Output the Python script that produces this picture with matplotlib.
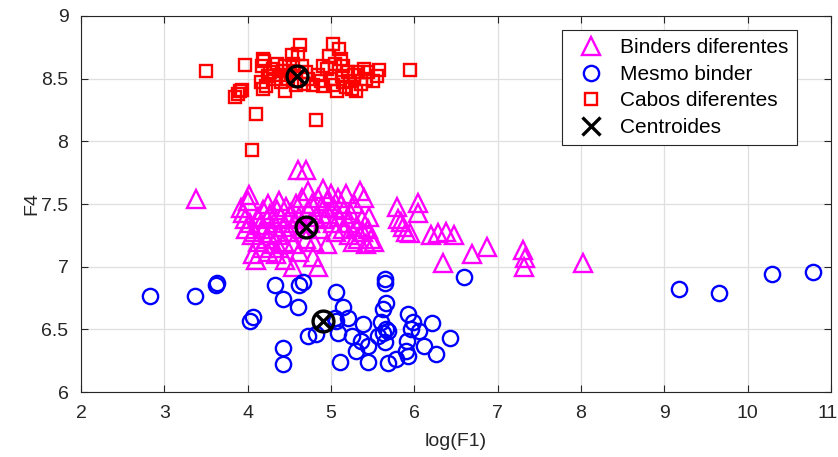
import matplotlib
matplotlib.use("Agg")
import matplotlib.pyplot as plt
from matplotlib.lines import Line2D
from matplotlib.transforms import ScaledTranslation

plt.rcParams['font.family'] = ['Liberation Sans', 'DejaVu Sans']

# Binders diferentes (log(F1), F4)
bind_x = [3.38, 3.92, 3.95, 3.97, 3.98, 4.00, 4.02, 4.03, 4.05, 4.07, 4.08, 4.10,
          4.12, 4.13, 4.15, 4.17, 4.18, 4.20, 4.22, 4.23, 4.25, 4.27, 4.28, 4.30,
          4.32, 4.34, 4.35, 4.37, 4.38, 4.40, 4.42, 4.44, 4.46, 4.48, 4.50, 4.52,
          4.55, 4.56, 4.58, 4.60, 4.62, 4.65, 4.67, 4.70, 4.72, 4.73, 4.75, 4.77,
          4.80, 4.82, 4.84, 4.85, 4.87, 4.88, 4.90, 4.92, 4.95, 4.97, 5.00, 5.02,
          5.04, 5.06, 5.08, 5.10, 5.12, 5.14, 5.16, 5.18, 5.20, 5.22, 5.24, 5.26,
          5.28, 5.30, 5.33, 5.35, 5.37, 5.39, 5.40, 5.42, 5.44, 5.46, 5.48, 5.52,
          4.55, 4.45, 4.62, 4.70, 4.38, 4.25, 4.95, 4.78,
          5.79, 5.81, 5.84, 5.87, 5.90, 5.95, 6.04, 6.04, 6.20, 6.28, 6.38, 6.48,
          6.35, 6.69, 6.87, 7.31, 7.33, 7.32, 8.02]
bind_y = [7.54, 7.47, 7.43, 7.38, 7.30, 7.52, 7.57, 7.35, 7.25, 7.10, 7.28, 7.05,
          7.40, 7.20, 7.33, 7.15, 7.45, 7.30, 7.22, 7.38, 7.12, 7.42, 7.27, 7.18,
          7.35, 7.10, 7.45, 7.25, 7.15, 7.40, 7.32, 7.20, 7.48, 7.38, 7.28, 7.43,
          7.00, 7.35, 7.50, 7.77, 7.40, 7.55, 7.30, 7.77, 7.45, 7.60, 7.35, 7.50,
          7.20, 7.40, 7.55, 7.00, 7.30, 7.48, 7.62, 7.38, 7.52, 7.42, 7.58, 7.35,
          7.47, 7.28, 7.55, 7.40, 7.50, 7.30, 7.45, 7.58, 7.35, 7.25, 7.42, 7.20,
          7.50, 7.32, 7.22, 7.60, 7.38, 7.28, 7.55, 7.18, 7.30, 7.40, 7.22, 7.20,
          7.18, 7.05, 7.12, 7.22, 7.52, 7.50, 7.18, 7.08,
          7.48, 7.38, 7.36, 7.32, 7.28, 7.27, 7.51, 7.43, 7.25, 7.27, 7.28, 7.25,
          7.03, 7.10, 7.16, 7.13, 7.07, 7.00, 7.03]

# Mesmo binder
same_x = [2.83, 3.37, 3.62, 3.63, 4.03, 4.06, 4.33, 4.42, 4.60, 4.62, 4.66, 4.42,
          4.42, 4.72, 4.82, 5.05, 5.06, 5.06, 5.14, 5.20, 5.25, 5.09, 5.11, 5.30,
          5.36, 5.38, 5.44, 5.44, 5.56, 5.60, 5.62, 5.62, 5.65, 5.65, 5.66, 5.66,
          5.65, 5.68, 5.69, 5.78, 5.92, 5.96, 5.91, 5.90, 5.92, 5.98, 6.06, 6.12,
          6.21, 6.26, 6.43, 6.60, 9.18, 9.66, 10.29, 10.78]
same_y = [6.77, 6.77, 6.85, 6.87, 6.57, 6.60, 6.85, 6.74, 6.68, 6.85, 6.88, 6.35,
          6.22, 6.45, 6.46, 6.59, 6.57, 6.80, 6.68, 6.59, 6.45, 6.47, 6.24, 6.33,
          6.41, 6.54, 6.24, 6.37, 6.45, 6.56, 6.66, 6.47, 6.90, 6.87, 6.71, 6.50,
          6.40, 6.23, 6.49, 6.26, 6.62, 6.50, 6.41, 6.33, 6.29, 6.56, 6.49, 6.37,
          6.55, 6.30, 6.43, 6.92, 6.82, 6.79, 6.94, 6.96]

# Cabos diferentes
cabo_x = [3.50, 3.85, 3.88, 3.91, 3.93, 3.97, 4.05, 4.10, 4.16, 4.17, 4.18, 4.20,
          4.18, 4.22, 4.25, 4.27, 4.30, 4.32, 4.35, 4.38, 4.40, 4.42, 4.45, 4.48,
          4.50, 4.53, 4.55, 4.57, 4.60, 4.63, 4.65, 4.68, 4.70, 4.72, 4.78, 4.82,
          4.85, 4.88, 4.90, 4.95, 4.98, 5.00, 5.02, 5.03, 5.05, 5.07, 5.10, 5.12,
          5.13, 5.15, 5.18, 5.20, 5.23, 5.25, 5.28, 5.30, 5.33, 5.36, 5.40, 5.42,
          5.45, 5.50, 5.55, 5.58, 5.95, 4.45, 4.58, 5.15, 4.90]
cabo_y = [8.56, 8.35, 8.38, 8.40, 8.41, 8.61, 7.93, 8.22, 8.47, 8.60, 8.66, 8.64,
          8.42, 8.44, 8.52, 8.55, 8.58, 8.50, 8.62, 8.53, 8.47, 8.56, 8.60, 8.50,
          8.56, 8.69, 8.62, 8.48, 8.70, 8.77, 8.60, 8.46, 8.55, 8.50, 8.45, 8.17,
          8.53, 8.48, 8.44, 8.58, 8.68, 8.50, 8.78, 8.45, 8.62, 8.40, 8.74, 8.66,
          8.52, 8.47, 8.43, 8.55, 8.48, 8.42, 8.53, 8.40, 8.55, 8.46, 8.58, 8.50,
          8.55, 8.48, 8.52, 8.57, 8.57, 8.40, 8.45, 8.60, 8.60]

# Centroides
cent_x = [4.70, 4.91, 4.59]
cent_y = [7.32, 6.57, 8.52]

x_ticks = [2, 3, 4, 5, 6, 7, 8, 9, 10, 11]
y_ticks = [6, 6.5, 7, 7.5, 8, 8.5, 9]
y_tick_labels = ['6', '6.5', '7', '7.5', '8', '8.5', '9']
legend_labels = ['Binders diferentes', 'Mesmo binder', 'Cabos diferentes', 'Centroides']

MAGENTA, BLUE, RED, DARK = '#ff00ff', '#0000ff', '#ff0000', '#262626'

fig = plt.figure(figsize=(8.38, 4.57), dpi=100)
ax = fig.add_axes([0.0966, 0.1422, 0.8950, 0.8228])

ax.plot(bind_x, bind_y, linestyle='none', marker='^', markersize=12.5,
        markerfacecolor='none', markeredgecolor=MAGENTA, markeredgewidth=1.7)
ax.plot(same_x, same_y, linestyle='none', marker='o', markersize=11,
        markerfacecolor='none', markeredgecolor=BLUE, markeredgewidth=1.7)
ax.plot(cabo_x, cabo_y, linestyle='none', marker='s', markersize=9,
        markerfacecolor='none', markeredgecolor=RED, markeredgewidth=1.7)
ax.plot(cent_x, cent_y, linestyle='none', marker='x', markersize=11,
        color='black', markeredgewidth=2.4)
ax.plot(cent_x, cent_y, linestyle='none', marker='o', markersize=15,
        markerfacecolor='none', markeredgecolor='black', markeredgewidth=2.4)

ax.set_xlim(2, 11)
ax.set_ylim(6, 9)
ax.set_xticks(x_ticks)
ax.set_yticks(y_ticks)
ax.set_yticklabels(y_tick_labels)
ax.grid(True, color='#dfdfdf', linewidth=0.9)
ax.set_axisbelow(True)
for s in ax.spines.values():
    s.set_color(DARK)
    s.set_linewidth(0.8)
ax.tick_params(direction='in', top=True, right=True, length=5, width=0.8,
               colors=DARK, labelsize=14, labelcolor=DARK)
ax.tick_params(axis='x', pad=9)
ax.tick_params(axis='y', pad=9)
ax.set_xlabel('log(F1)', fontsize=14, color=DARK, labelpad=8)
ax.set_ylabel('F4', fontsize=14, color=DARK, labelpad=1)

# keep the rightmost x tick label inside the canvas
fig.canvas.draw()
last = ax.get_xticklabels()[-1]
last.set_transform(last.get_transform() + ScaledTranslation(-3 / 100, 0, fig.dpi_scale_trans))

handles = [
    Line2D([], [], linestyle='none', marker='^', markersize=12.5, markerfacecolor='none',
           markeredgecolor=MAGENTA, markeredgewidth=1.7),
    Line2D([], [], linestyle='none', marker='o', markersize=11, markerfacecolor='none',
           markeredgecolor=BLUE, markeredgewidth=1.7),
    Line2D([], [], linestyle='none', marker='s', markersize=9, markerfacecolor='none',
           markeredgecolor=RED, markeredgewidth=1.7),
    Line2D([], [], linestyle='none', marker='x', markersize=13, color='black',
           markeredgewidth=2.4),
]
leg = ax.legend(handles, legend_labels, loc='upper right',
                bbox_to_anchor=(797 / 838, 1 - 30 / 457), bbox_transform=fig.transFigure,
                fontsize=15, frameon=True, fancybox=False, framealpha=1,
                edgecolor=DARK, borderpad=0.4, labelspacing=0.36,
                handlelength=2.0, handletextpad=0.4, borderaxespad=0)
leg.get_frame().set_linewidth(0.8)

fig.savefig('out.png', dpi=100)
